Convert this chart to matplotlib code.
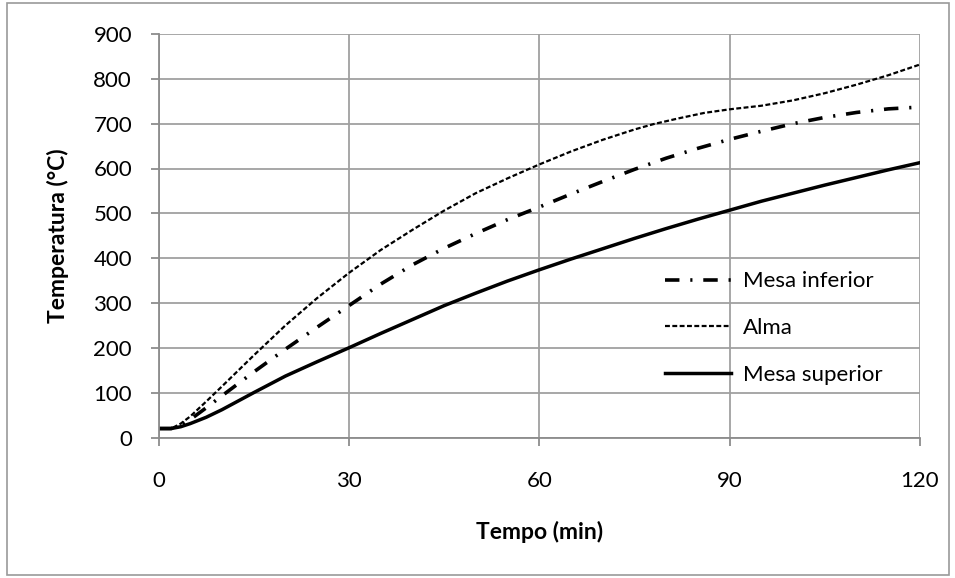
import matplotlib
matplotlib.use("Agg")
import matplotlib.pyplot as plt
from matplotlib.patches import Rectangle

plt.rcParams['font.family'] = ['Lato', 'DejaVu Sans']

t_inf = [0, 2, 3.5, 5, 7.5, 10, 15, 20, 25, 30, 35, 40, 45, 50, 55, 60, 65, 70, 75, 80, 85, 90, 95, 100, 105, 110, 115, 120]
mesa_inferior = [20, 20, 28, 40, 66, 93, 146, 197, 246, 294, 342, 385, 422, 455, 486, 514, 543, 571, 598, 623, 645, 665, 683, 700, 714, 725, 733, 737]

t_alma = [0, 2, 3.5, 5, 7.5, 10, 15, 20, 25, 30, 35, 40, 45, 50, 55, 60, 65, 70, 75, 78, 82, 86, 90, 95, 100, 105, 110, 115, 120]
alma = [20, 20, 31, 47, 80, 114, 183, 250, 311, 367, 418, 463, 506, 545, 578, 609, 638, 664, 687, 699, 712, 724, 732, 740, 752, 768, 787, 808, 832]

t_sup = [0, 2, 3.5, 5, 7.5, 10, 12.5, 15, 20, 25, 30, 35, 40, 45, 50, 55, 60, 65, 70, 75, 80, 85, 90, 95, 100, 105, 110, 115, 120]
mesa_superior = [20, 20, 24, 31, 45, 62, 81, 100, 137, 169, 200, 232, 263, 294, 322, 349, 374, 398, 421, 444, 466, 487, 507, 527, 545, 563, 580, 597, 613]

x_ticks = [0, 30, 60, 90, 120]
y_ticks = [0, 100, 200, 300, 400, 500, 600, 700, 800, 900]

fig = plt.figure(figsize=(9.55, 5.78), dpi=100)
fig.patches.append(Rectangle((7/955, 3/578), 942/955, 572/578, transform=fig.transFigure,
                             fill=False, edgecolor='#9a9a9a', linewidth=1.2))
ax = fig.add_axes([158.5/955, (578-437.5)/578, (920-158.5)/955, (437.5-34)/578])

ax.plot(t_inf, mesa_inferior, color='black', lw=2.6, linestyle=(0, (4, 3, 0.6, 3)), label='Mesa inferior')
ax.plot(t_alma, alma, color='black', lw=1.6, linestyle=(0, (2.2, 1.1)), label='Alma')
ax.plot(t_sup, mesa_superior, color='black', lw=2.5, linestyle='-', label='Mesa superior')

ax.set_xlim(0, 120)
ax.set_ylim(0, 900)
ax.set_xticks(x_ticks)
ax.set_yticks(y_ticks)
ax.grid(True, color='#a0a0a0', lw=1.3)
ax.set_axisbelow(True)
for s in ['top', 'right']:
    ax.spines[s].set_visible(False)
for s in ['left', 'bottom']:
    ax.spines[s].set_color('#8c8c8c')
    ax.spines[s].set_linewidth(1.3)
ax.tick_params(axis='both', color='#8c8c8c', length=6, width=1.3, labelsize=16)
ax.tick_params(axis='y', pad=13)
ax.tick_params(axis='x', pad=18)

ax.set_xlabel('Tempo (min)', fontsize=16.5, fontweight='bold', va='center')
ax.xaxis.set_label_coords(0.5, (437.5 - 532) / 403.5)
ax.set_ylabel('Temperatura (°C)', fontsize=16.5, fontweight='bold', va='center')
ax.yaxis.set_label_coords((58 - 158.5) / 761.5, 0.5)

leg = ax.legend(loc='center left', bbox_to_anchor=((665 - 158.5) / 761.5, (437.5 - 328) / 403.5),
                frameon=False, fontsize=16, handlelength=2.95, handletextpad=0.55,
                labelspacing=1.2, borderpad=0, borderaxespad=0)

fig.savefig('out.png', dpi=100)
